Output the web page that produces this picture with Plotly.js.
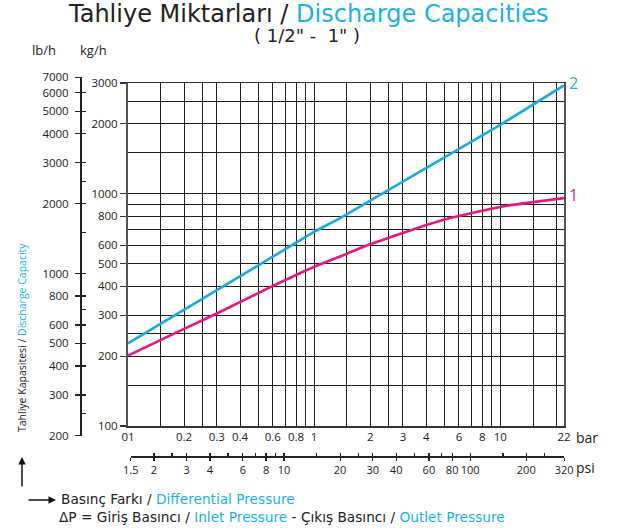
<!DOCTYPE html>
<html><head><meta charset="utf-8">
<script src="https://cdn.plot.ly/plotly-3.0.1.min.js"></script>
<style>html,body{margin:0;padding:0;background:#fff}</style>
</head><body><div id="chart" style="width:619px;height:531px"></div>
<script>
// ---- data ----
const pressureBar2 = [0.1, 1.03, 1.38, 10, 22];
const capacityKg2  = [227, 695, 786, 1980, 2930];
const pressureBar1 = [0.1, 0.2, 0.3, 0.593, 1.03, 1.38, 1.92, 4.96, 10.3, 22];
const capacityKg1  = [201, 262, 305, 399, 490, 537, 599, 773, 882, 958];

const barTicks   = [0.1, 0.2, 0.3, 0.4, 0.6, 0.8, 1, 2, 3, 4, 6, 8, 10, 22];
const barLabels  = ['01','0.2','0.3','0.4','0.6','0.8','1','2','3','4','6','8','10','22'];
const barMinor   = [0.15, 0.25, 0.5, 0.7, 0.9, 1.5, 2.5, 5, 7, 9, 15, 20];
const kgTicks    = [100, 200, 300, 400, 500, 600, 800, 1000, 2000, 3000];
const kgMinor    = [150, 250, 700, 900, 1500, 2500];
const lbTicks    = [200, 300, 400, 500, 600, 800, 1000, 2000, 3000, 4000, 5000, 6000, 7000];
const lbAllTicks = [200, 250, 300, 400, 500, 600, 700, 800, 1000, 1500, 2000, 2500, 3000, 4000, 5000, 6000, 7000];
const psiTicks   = [1.5, 2, 3, 4, 6, 8, 10, 20, 30, 40, 60, 80, 100, 200, 320];
const psiAllTicks= [1.5, 2, 2.5, 3, 4, 5, 6, 7, 8, 9, 10, 15, 20, 25, 30, 40, 50, 60, 70, 80, 100, 150, 200, 250, 320];
const KG_TO_LB = 2.20462, BAR_TO_PSI = 14.5038;

// ---- geometry ----
const W = 619, H = 531;
const mL = 80, mR = 54, mT = 76, mB = 75;
const pw = W - mL - mR, ph = H - mT - mB;
const x0 = 128, x1 = 564, yB = 426, yT = 83;
const xMin = 0.1, xMax = 22, yMin = 100, yMax = 3000;
const pxDecX = (x1 - x0) / Math.log10(xMax / xMin);
const pxDecY = (yB - yT) / Math.log10(yMax / yMin);
const xFor = b => x0 + pxDecX * Math.log10(b / xMin);
const yFor = k => yB - pxDecY * Math.log10(k / yMin);
const px = x => (x - mL) / pw, py = y => (mT + ph - y) / ph;
const clamp = v => Math.max(0, Math.min(1, v));

const lbLo = 200, lbHi = 7000, psiLo = 1.5, psiHi = 320;
const y2dom = [clamp(py(yFor(lbLo / KG_TO_LB))), clamp(py(yFor(lbHi / KG_TO_LB)))];
const x2dom = [clamp(px(xFor(psiLo / BAR_TO_PSI))), clamp(px(xFor(psiHi / BAR_TO_PSI)))];

const BLUE = '#1ba9e3', PINK = '#e5177e', TXT = '#222', BLUETXT = '#1ab2ec';
const FONT = 'Open Sans, Lato, sans-serif';
const WIDE = 'DejaVu Sans, Verdana, sans-serif';

const psiSeries = pressureBar1.map(b => b * BAR_TO_PSI);
const lbSeries = capacityKg1.map(k => k * KG_TO_LB);
const hidden = {color: 'rgba(0,0,0,0)', width: 0.1};

const traces = [
  {x: pressureBar2, y: capacityKg2, mode: 'lines', line: {color: BLUE, width: 2.6}, xaxis: 'x', yaxis: 'y', hoverinfo: 'skip'},
  {x: pressureBar1, y: capacityKg1, mode: 'lines', line: {color: PINK, width: 2.6, shape: 'spline', smoothing: 0.5}, xaxis: 'x', yaxis: 'y', hoverinfo: 'skip'},
  // same series in psi / lb/h units, transparent, so the secondary scales are drawn by the library
  {x: psiSeries, y: lbSeries, mode: 'lines', line: hidden, xaxis: 'x2', yaxis: 'y2', hoverinfo: 'skip'},
  {x: psiSeries, y: lbSeries, mode: 'lines', line: hidden, xaxis: 'x3', yaxis: 'y3', hoverinfo: 'skip'}
];

const grid = '#1e1e1e';
const tickFont = {size: 11.5, color: TXT, family: FONT};
const layout = {
  width: W, height: H,
  margin: {l: mL, r: mR, t: mT, b: mB, pad: 0},
  paper_bgcolor: '#fff', plot_bgcolor: 'rgba(0,0,0,0)',
  showlegend: false,
  font: {family: FONT, color: TXT, size: 11},
  xaxis: {
    type: 'log', range: [Math.log10(xMin), Math.log10(xMax)],
    domain: [px(x0), px(x1)], anchor: 'y',
    tickmode: 'array', tickvals: barTicks, ticktext: barLabels, tickangle: 0,
    ticks: '', showgrid: true, gridcolor: grid, gridwidth: 1,
    minor: {tickmode: 'array', tickvals: barMinor, showgrid: true, gridcolor: grid, gridwidth: 1, ticks: ''},
    showline: true, linecolor: '#333', linewidth: 1.5, mirror: true,
    tickfont: tickFont, zeroline: false, fixedrange: true
  },
  yaxis: {
    type: 'log', range: [Math.log10(yMin), Math.log10(yMax)],
    domain: [py(yB), py(yT)], anchor: 'x',
    tickmode: 'array', tickvals: kgTicks, ticktext: kgTicks.map(String),
    ticks: 'outside', ticklen: 6, tickcolor: '#333', tickwidth: 1.2,
    showgrid: true, gridcolor: grid, gridwidth: 1,
    minor: {tickmode: 'array', tickvals: kgMinor, showgrid: true, gridcolor: grid, gridwidth: 1, ticks: ''},
    showline: true, linecolor: '#555', linewidth: 2, mirror: true,
    tickfont: tickFont, zeroline: false, fixedrange: true
  },
  // lb/h scale: labels + outer tick halves
  yaxis2: {
    type: 'log', range: [Math.log10(lbLo), Math.log10(lbHi)],
    domain: y2dom, anchor: 'free', position: 0, side: 'left',
    tickmode: 'array', tickvals: lbTicks, ticktext: lbTicks.map(String),
    ticks: 'outside', ticklen: 5, tickcolor: '#222', tickwidth: 1.2, ticklabelstandoff: 4,
    showgrid: false, showline: true, linecolor: '#222', linewidth: 1.5,
    tickfont: tickFont, zeroline: false, fixedrange: true
  },
  // lb/h scale: inner tick halves
  yaxis3: {
    type: 'log', range: [Math.log10(lbLo), Math.log10(lbHi)],
    overlaying: 'y2', anchor: 'free', position: 0, side: 'left',
    tickmode: 'array', tickvals: lbAllTicks, showticklabels: false,
    ticks: 'inside', ticklen: 5, tickcolor: '#222', tickwidth: 1.2,
    showgrid: false, showline: false, zeroline: false, fixedrange: true
  },
  // psi scale: labels + lower tick halves
  xaxis2: {
    type: 'log', range: [Math.log10(psiLo), Math.log10(psiHi)],
    domain: x2dom, anchor: 'free', position: 0, side: 'bottom',
    tickmode: 'array', tickvals: psiTicks, ticktext: psiTicks.map(String), tickangle: 0,
    ticks: 'outside', ticklen: 3.5, tickcolor: '#222', tickwidth: 1.2,
    showgrid: false, showline: true, linecolor: '#222', linewidth: 1.5,
    tickfont: {size: 11, color: TXT, family: FONT}, zeroline: false, fixedrange: true
  },
  // psi scale: upper tick halves
  xaxis3: {
    type: 'log', range: [Math.log10(psiLo), Math.log10(psiHi)],
    overlaying: 'x2', anchor: 'free', position: 0, side: 'bottom',
    tickmode: 'array', tickvals: psiAllTicks, showticklabels: false,
    ticks: 'inside', ticklen: 3.5, tickcolor: '#222', tickwidth: 1.2,
    showgrid: false, showline: false, zeroline: false, fixedrange: true
  },
  annotations: [
    {xref: 'paper', yref: 'paper', x: px(308), y: py(14), showarrow: false, xanchor: 'center', yanchor: 'middle',
     text: 'Tahliye Miktarları / <span style="color:' + BLUETXT + '">Discharge Capacities</span>', font: {size: 24, family: WIDE, color: TXT}},
    {xref: 'paper', yref: 'paper', x: px(307), y: py(36), showarrow: false, xanchor: 'center', yanchor: 'middle',
     text: '(\u00A01/2"\u00A0-\u00A0\u00A01"\u00A0)', font: {size: 18, family: WIDE, color: TXT}},
    {xref: 'paper', yref: 'paper', x: px(44), y: py(50), showarrow: false, xanchor: 'center', yanchor: 'middle',
     text: 'lb/h', font: {size: 13, family: FONT, color: TXT}},
    {xref: 'paper', yref: 'paper', x: px(93), y: py(50), showarrow: false, xanchor: 'center', yanchor: 'middle',
     text: 'kg/h', font: {size: 13, family: FONT, color: TXT}},
    {xref: 'paper', yref: 'paper', x: px(574), y: py(437), showarrow: false, xanchor: 'left', yanchor: 'middle',
     text: 'bar', font: {size: 14, family: FONT, color: TXT}},
    {xref: 'paper', yref: 'paper', x: px(574), y: py(467), showarrow: false, xanchor: 'left', yanchor: 'middle',
     text: 'psi', font: {size: 14, family: FONT, color: TXT}},
    {xref: 'paper', yref: 'paper', x: px(567), y: py(83), showarrow: false, xanchor: 'left', yanchor: 'middle',
     text: '2', font: {size: 16, family: FONT, color: BLUETXT}},
    {xref: 'paper', yref: 'paper', x: px(567), y: py(195), showarrow: false, xanchor: 'left', yanchor: 'middle',
     text: '1', font: {size: 16, family: FONT, color: PINK}},
    {xref: 'paper', yref: 'paper', x: px(22), y: py(338), showarrow: false, xanchor: 'center', yanchor: 'middle', textangle: -90,
     text: 'Tahliye Kapasitesi / <span style="color:' + BLUETXT + '">Discharge Capacity</span>', font: {size: 10.5, family: FONT, color: TXT}},
    {xref: 'paper', yref: 'paper', x: px(22), y: py(457), ax: 0, ay: 31, showarrow: true, arrowhead: 2, arrowsize: 1, arrowwidth: 1.5, arrowcolor: '#111', text: ''},
    {xref: 'paper', yref: 'paper', x: px(56), y: py(500), ax: -29, ay: 0, showarrow: true, arrowhead: 2, arrowsize: 1, arrowwidth: 1.5, arrowcolor: '#111', text: ''},
    {xref: 'paper', yref: 'paper', x: px(59), y: py(499), showarrow: false, xanchor: 'left', yanchor: 'middle',
     text: 'Basınç Farkı / <span style="color:' + BLUETXT + '">Differential Pressure</span>', font: {size: 13.7, family: WIDE, color: TXT}},
    {xref: 'paper', yref: 'paper', x: px(57), y: py(517), showarrow: false, xanchor: 'left', yanchor: 'middle',
     text: 'ΔP = Giriş Basıncı / <span style="color:' + BLUETXT + '">Inlet Pressure</span> - Çıkış Basıncı / <span style="color:' + BLUETXT + '">Outlet Pressure</span>', font: {size: 13.7, family: WIDE, color: TXT}}
  ]
};

Plotly.newPlot('chart', traces, layout, {staticPlot: true, displayModeBar: false});
</script>
</body></html>
